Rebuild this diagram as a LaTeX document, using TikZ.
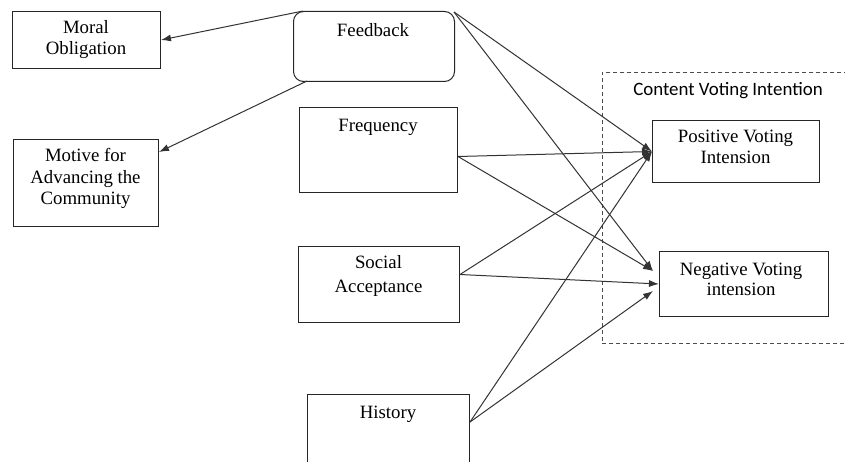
\documentclass[tikz,border=0pt]{standalone}
\usepackage{fontspec}
\setmainfont{Liberation Serif}
\newfontfamily\cvifont{Carlito}
\usetikzlibrary{arrows.meta}
\begin{document}
\begin{tikzpicture}[x=1pt,y=-1pt,
  box/.style={draw=black!85, line width=1pt, rectangle, inner sep=0pt, anchor=north west},
  txt/.style={font=\fontsize{18.8}{21.5}\selectfont, inner sep=0pt, anchor=base},
  conn/.style={draw=black!80, line width=1pt, -{Latex[length=10pt,width=7pt]}}]
\clip (0,0) rectangle (845,462);
\fill[white] (0,0) rectangle (845,462);
% frame
\node[box, draw=black!70, line width=0.8pt, dash pattern=on 4pt off 3pt, minimum width=250, minimum height=271] (cvibox) at (602,72) {};
\node[txt, font=\fontsize{18.9}{21.5}\selectfont\cvifont] (cvi) at (728,96) {Content Voting Intention};
% boxes
\node[box, minimum width=148, minimum height=57] (moral) at (12,11) {};
\node[box, minimum width=145, minimum height=87] (motive) at (13,139) {};
\node[box, rounded corners=10pt, minimum width=161, minimum height=70] (fb) at (293,11) {};
\node[box, minimum width=158, minimum height=85] (freq) at (299,107) {};
\node[box, minimum width=161, minimum height=76] (social) at (298,246) {};
\node[box, minimum width=162, minimum height=90] (history) at (307,394) {};
\node[box, minimum width=167, minimum height=62] (pos) at (652,120) {};
\node[box, minimum width=169, minimum height=65] (neg) at (659,251) {};
% texts
\node[txt] (moralA) at (86,34) {Moral};
\node[txt] (moralB) at (86,55) {Obligation};
\node[txt] (motA) at (85.5,162) {Motive for};
\node[txt] (motB) at (85.5,184) {Advancing the};
\node[txt] (motC) at (85.5,205) {Community};
\node[txt] (fbA) at (373,37) {Feedback};
\node[txt] (freqA) at (378,132) {Frequency};
\node[txt] (socA) at (378.5,269) {Social};
\node[txt] (socB) at (378.5,292) {Acceptance};
\node[txt] (histA) at (388,418) {History};
\node[txt] (posA) at (735.5,143) {Positive Voting};
\node[txt] (posB) at (735.5,164) {Intension};
\node[txt] (negA) at (741,275) {Negative Voting};
\node[txt] (negB) at (741,295) {intension};
% connectors
\draw[conn] ([shift={(10,0)}]fb.north west) -- (moral.east);
\draw[conn] ([shift={(14,-1)}]fb.south west) -- ([shift={(0,13)}]motive.north east);
\draw[conn] ([shift={(-1,1)}]fb.north east) -- (pos.west);
\draw[conn] ([shift={(-1,1)}]fb.north east) -- ([shift={(-6,-13)}]neg.west);
\draw[conn] ([shift={(0,6.5)}]freq.east) -- (pos.west);
\draw[conn] ([shift={(0,6.5)}]freq.east) -- ([shift={(-6,-13)}]neg.west);
\draw[conn] ([shift={(0,-10)}]social.east) -- (pos.west);
\draw[conn] ([shift={(0,-10)}]social.east) -- (neg.west);
\draw[conn] ([shift={(0,28)}]history.north east) -- (pos.west);
\draw[conn] ([shift={(0,28)}]history.north east) -- ([shift={(-6,7)}]neg.west);
\end{tikzpicture}
\end{document}
